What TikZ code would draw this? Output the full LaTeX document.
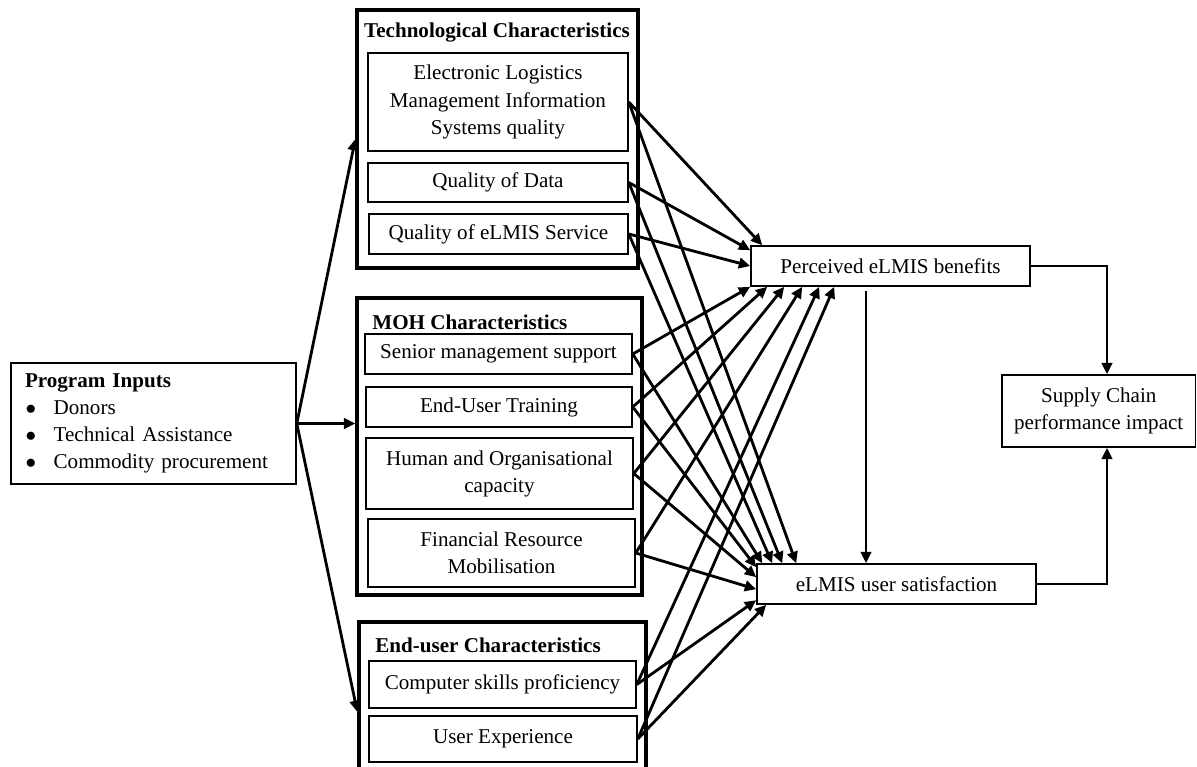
\documentclass[tikz,border=0pt]{standalone}
\usepackage{fontspec}
\setmainfont{Liberation Serif}
\usetikzlibrary{arrows.meta}

\begin{document}
\fontsize{12}{15.4}\selectfont
\begin{tikzpicture}[x=0.02cm, y=-0.02cm,
    group/.style={draw, line width=1.9pt, inner sep=0pt},
    title/.style={font=\bfseries, inner sep=0pt},
    item/.style={draw, line width=0.9pt, align=center, inner sep=0pt},
    result/.style={draw, line width=0.9pt, align=center, inner sep=0pt},
    conn/.style={line width=1.6pt, -{Triangle[length=6.5pt,width=6pt]}}]
    \useasboundingbox (0,0) rectangle (1197,767);

    \node[group, minimum width=5.62cm, minimum height=5.16cm] (tech) at (497.5,139) {};
    \node[group, minimum width=5.7cm, minimum height=5.94cm] (moh) at (499.5,446.5) {};
    \node[group, minimum width=5.74cm, minimum height=3.0cm] (eu) at (502.5,697) {};

    \node[title] (techtitle) at (497,33) {Technological Characteristics};
    \node[title, anchor=west] (mohtitle) at (372,322) {MOH Characteristics};
    \node[title, anchor=west] (eutitle) at (375,645) {End-user Characteristics};

    \node[item, minimum width=5.2cm, minimum height=1.96cm] (elmis) at (498,102) {Electronic Logistics\\Management Information\\Systems quality};
    \node[item, minimum width=5.2cm, minimum height=0.78cm] (data) at (498,182.5) {Quality of Data};
    \node[item, minimum width=5.18cm, minimum height=0.8cm] (service) at (498.5,234) {Quality of eLMIS Service};
    \node[item, minimum width=5.34cm, minimum height=0.8cm] (senior) at (498.5,354) {Senior management support};
    \node[item, minimum width=5.32cm, minimum height=0.8cm] (training) at (499,407) {End-User Training};
    \node[item, minimum width=5.34cm, minimum height=1.42cm] (human) at (499.5,473.5) {Human and Organisational\\capacity};
    \node[item, minimum width=5.34cm, minimum height=1.36cm] (finance) at (501.5,553) {Financial Resource\\Mobilisation};
    \node[item, minimum width=5.34cm, minimum height=0.94cm] (skills) at (502.5,684.5) {Computer skills proficiency};
    \node[item, minimum width=5.36cm, minimum height=0.92cm] (experience) at (503,739) {User Experience};

    \node[result, minimum width=5.7cm, minimum height=2.42cm, text width=5.14cm, align=left] (prog) at (153.5,423.5)
        {\textbf{Program Inputs}\\
         \hspace*{0.3pt}$\bullet$\hspace*{10pt}Donors\\
         \hspace*{0.3pt}$\bullet$\hspace*{10pt}Technical Assistance\\
         \hspace*{0.3pt}$\bullet$\hspace*{10pt}Commodity procurement};

    \node[result, minimum width=5.58cm, minimum height=0.8cm] (benefit) at (890.5,266) {Perceived eLMIS benefits};
    \node[result, minimum width=5.58cm, minimum height=0.8cm] (satisfy) at (896.5,584) {eLMIS user satisfaction};
    \node[result, minimum width=3.87cm, minimum height=1.44cm] (impact) at (1098.75,411) {Supply Chain\\performance impact};

    \draw[conn] (prog.east) -- (tech.west);
    \draw[conn] (prog.east) -- (prog.east -| moh.west);
    \draw[conn] (prog.east) -- ([yshift=-0.3cm]eu.west);

    \draw[conn] (elmis.east) -- ([xshift=0.24cm]benefit.north west);
    \draw[conn] (data.east) -- ([yshift=-0.1cm]benefit.north west);
    \draw[conn] (service.east) -- (benefit.west);
    \draw[conn] (senior.east) -- (benefit.south west);
    \draw[conn] (training.east) -- ([xshift=0.34cm]benefit.south west);
    \draw[conn] (human.east) -- ([xshift=0.68cm]benefit.south west);
    \draw[conn] (finance.east) -- ([xshift=1.04cm]benefit.south west);
    \draw[conn] (skills.east) -- ([xshift=1.38cm]benefit.south west);
    \draw[conn] (experience.east) -- ([xshift=1.68cm]benefit.south west);

    \draw[conn] (elmis.east) -- ([xshift=0.8cm]satisfy.north west);
    \draw[conn] (data.east) -- ([xshift=0.52cm]satisfy.north west);
    \draw[conn] (service.east) -- ([xshift=0.32cm]satisfy.north west);
    \draw[conn] (senior.east) -- ([xshift=0.12cm]satisfy.north west);
    \draw[conn] (training.east) -- ([yshift=-0.08cm]satisfy.north west);
    \draw[conn] (human.east) -- ([yshift=-0.28cm]satisfy.north west);
    \draw[conn] (finance.east) -- ([yshift=-0.52cm]satisfy.north west);
    \draw[conn] (skills.east) -- ([yshift=-0.74cm]satisfy.north west);
    \draw[conn] (experience.east) -- ([xshift=0.2cm]satisfy.south west);

    \coordinate (down) at ([xshift=-0.49cm,yshift=-0.08cm]benefit.south);
    \draw[conn] (down) -- (down |- satisfy.north);
    \draw[conn] (benefit.east) -| ([xshift=0.165cm]impact.north);
    \draw[conn] (satisfy.east) -| ([xshift=0.165cm]impact.south);

\end{tikzpicture}
\end{document}
